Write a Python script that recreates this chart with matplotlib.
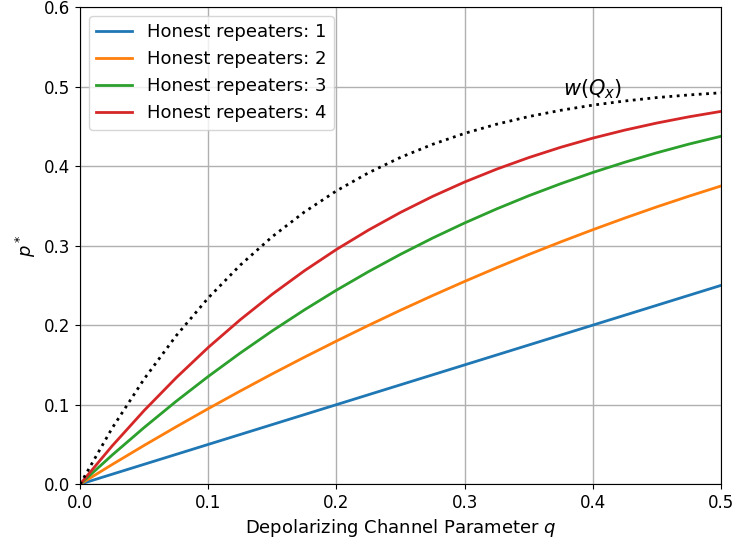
import numpy as np
import matplotlib
matplotlib.use('Agg')
import matplotlib.pyplot as plt

# depolarizing channel parameter q
q = [0.0, 0.025, 0.05, 0.075, 0.1, 0.125, 0.15, 0.175, 0.2, 0.225, 0.25,
     0.275, 0.3, 0.325, 0.35, 0.375, 0.4, 0.425, 0.45, 0.475, 0.5]

# p*, one list per number of honest repeaters
p_1 = [0.0, 0.0125, 0.025, 0.0375, 0.05, 0.0625, 0.075, 0.0875, 0.1, 0.1125, 0.125,
       0.1375, 0.15, 0.1625, 0.175, 0.1875, 0.2, 0.2125, 0.225, 0.2375, 0.25]
p_2 = [0.0, 0.0247, 0.0488, 0.0722, 0.095, 0.1172, 0.1388, 0.1597, 0.18, 0.1997, 0.2188,
       0.2372, 0.255, 0.2722, 0.2888, 0.3047, 0.32, 0.3347, 0.3488, 0.3622, 0.375]
p_3 = [0.0, 0.0366, 0.0713, 0.1043, 0.1355, 0.165, 0.1929, 0.2192, 0.244, 0.2673, 0.2891,
       0.3095, 0.3285, 0.3462, 0.3627, 0.3779, 0.392, 0.4049, 0.4168, 0.4277, 0.4375]
p_4 = [0.0, 0.0481, 0.0927, 0.1339, 0.172, 0.2069, 0.239, 0.2684, 0.2952, 0.3196, 0.3418,
       0.3619, 0.38, 0.3962, 0.4107, 0.4237, 0.4352, 0.4453, 0.4542, 0.462, 0.4688]
# w(Q_x) bound (dotted)
w_qx = [0.0, 0.0705, 0.1324, 0.1868, 0.2343, 0.2756, 0.3114, 0.3423, 0.3689, 0.3916, 0.411,
        0.4274, 0.4412, 0.4527, 0.4623, 0.4702, 0.4767, 0.4819, 0.4862, 0.4895, 0.4922]

series = [p_1, p_2, p_3, p_4]
labels = ['Honest repeaters: 1', 'Honest repeaters: 2',
          'Honest repeaters: 3', 'Honest repeaters: 4']

fig, ax = plt.subplots(figsize=(7.35, 5.44), dpi=100)
fig.subplots_adjust(left=0.109, right=0.981, top=0.987, bottom=0.11)

for vals, lab in zip(series, labels):
    ax.plot(q, vals, lw=2, label=lab)
ax.plot(q, w_qx, 'k:', lw=2)
ax.text(0.377, 0.489, r'$w(Q_x)$', fontsize=15)

ax.set_xlim(0, 0.5)
ax.set_ylim(0, 0.6)
ax.grid(True, color='#b0b0b0', lw=1)
ax.tick_params(labelsize=12)
ax.set_xlabel('Depolarizing Channel Parameter $q$', fontsize=13)
ax.set_ylabel('$p^*$', fontsize=13)
ax.legend(loc='upper left', fontsize=13)

fig.savefig('out.png', dpi=100)
